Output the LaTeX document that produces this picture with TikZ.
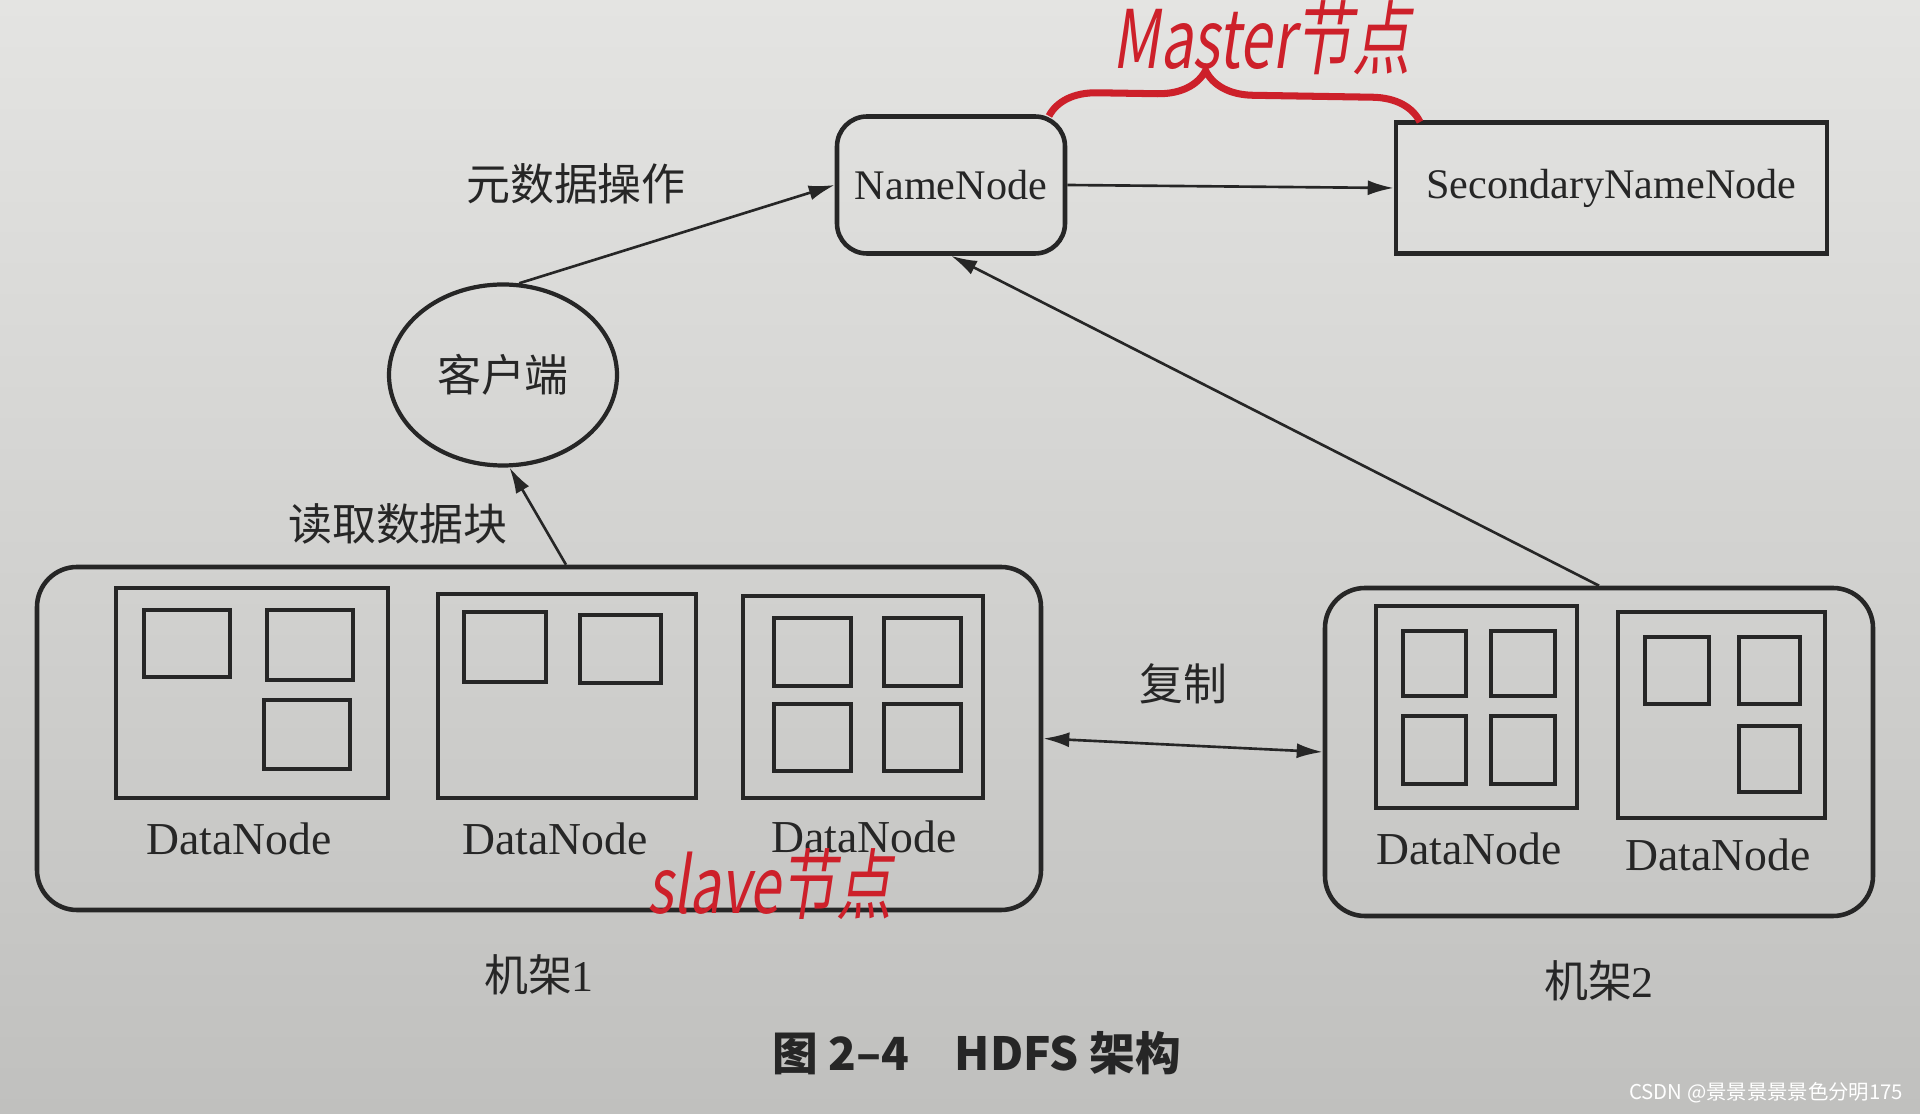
\documentclass[tikz,border=0pt]{standalone}
\usepackage{fontspec}
\setmainfont{Liberation Serif}
\newfontfamily\cjk{Noto Sans CJK SC}
\newfontfamily\hand[FakeSlant=0.15,FakeStretch=0.72]{Noto Sans CJK SC}
\usepackage{xcolor}
\usetikzlibrary{arrows.meta, positioning, shapes.geometric, decorations.pathreplacing}

\definecolor{ink}{RGB}{38,38,38}
\definecolor{pen}{RGB}{205,32,42}
\definecolor{paperTop}{RGB}{228,228,226}
\definecolor{paperBot}{RGB}{192,192,190}

\begin{document}
\begin{tikzpicture}[
  x=0.1mm, y=-0.1mm,
  master/.style={
    draw=ink, line width=1.3pt, rounded corners=3mm,
    minimum width=22.8mm, minimum height=13.7mm,
    font=\fontsize{12}{14}\selectfont, text=ink
  },
  second/.style={
    draw=ink, line width=1.3pt,
    minimum width=43.1mm, minimum height=13.1mm,
    font=\fontsize{12}{14}\selectfont, text=ink
  },
  client/.style={
    draw=ink, line width=1.2pt, ellipse, inner sep=0,
    minimum width=22.8mm, minimum height=18.1mm,
    font=\cjk\fontsize{12.5}{15}\selectfont, text=ink
  },
  rack/.style={draw=ink, line width=1.3pt, rounded corners=4mm},
  dn/.style={draw=ink, line width=1.4pt},
  blk/.style={draw=ink, line width=1.1pt, inner sep=0},
  dnlabel/.style={font=\fontsize{13}{15}\selectfont, text=ink, inner sep=0},
  cn/.style={font=\cjk\fontsize{12.5}{15}\selectfont, text=ink, inner sep=0},
  arrow/.style={-{Latex[length=2.6mm, width=1.5mm]}, line width=0.75pt, draw=ink},
  both/.style={{Latex[length=2.6mm, width=1.5mm]}-{Latex[length=2.6mm, width=1.5mm]}, line width=0.75pt, draw=ink},
  note/.style={font=\hand\fontsize{23}{26}\selectfont, text=pen, inner sep=0},
]
  % Paper
  \useasboundingbox (0,0) rectangle (1920,1114);
  \shade[top color=paperTop, bottom color=paperBot] (0,0) rectangle (1920,1114);

  % Master side
  \node[master] (nn) at (951,185) {NameNode};
  \node[second] (snn) at (1611.5,188) {SecondaryNameNode};
  \node[client] (client) at (503,375) {客户端};

  % Rack 1
  \node[rack, minimum width=100.4mm, minimum height=34.3mm] (rack1) at (539,738.5) {};
  \node[dn, minimum width=27.2mm, minimum height=21mm] (dn1) at (252,693) {};
  \node[dn, minimum width=25.8mm, minimum height=20.4mm] (dn2) at (567,696) {};
  \node[dn, minimum width=24mm, minimum height=20.2mm] (dn3) at (863,697) {};

  % blocks in rack 1
  \node[blk, minimum width=8.6mm, minimum height=6.7mm] (b11) at (187,643.5) {};
  \node[blk, minimum width=8.6mm, minimum height=7mm] (b12) at (310,645) {};
  \node[blk, minimum width=8.6mm, minimum height=6.9mm] (b13) at (307,734.5) {};
  \node[blk, minimum width=8.2mm, minimum height=7mm] (b21) at (505,647) {};
  \node[blk, minimum width=8.1mm, minimum height=6.8mm] (b22) at (620.5,649) {};
  \node[blk, minimum width=7.7mm, minimum height=6.8mm] (b31) at (812.5,652) {};
  \node[blk, minimum width=7.7mm, minimum height=6.8mm] (b32) at (922.5,652) {};
  \node[blk, minimum width=7.7mm, minimum height=6.7mm] (b33) at (812.5,737.5) {};
  \node[blk, minimum width=7.7mm, minimum height=6.7mm] (b34) at (922.5,737.5) {};

  \node[dnlabel] (l1) at (239,839) {DataNode};
  \node[dnlabel] (l2) at (555,839) {DataNode};
  \node[dnlabel] (l3) at (864,837) {DataNode};
  \node[cn, below=4.2mm of rack1] (r1) {机架{\rmfamily 1}};

  % Rack 2
  \node[rack, minimum width=54.8mm, minimum height=32.8mm] (rack2) at (1599,752) {};
  \node[dn, minimum width=20.1mm, minimum height=20.2mm] (dn4) at (1476.5,707) {};
  \node[dn, minimum width=20.7mm, minimum height=20.6mm] (dn5) at (1721.5,715) {};

  % blocks in rack 2
  \node[blk, minimum width=6.3mm, minimum height=6.5mm] (b41) at (1434.5,663.5) {};
  \node[blk, minimum width=6.4mm, minimum height=6.5mm] (b42) at (1523,663.5) {};
  \node[blk, minimum width=6.3mm, minimum height=6.8mm] (b43) at (1434.5,750) {};
  \node[blk, minimum width=6.4mm, minimum height=6.8mm] (b44) at (1523,750) {};
  \node[blk, minimum width=6.4mm, minimum height=6.7mm] (b51) at (1677,670.5) {};
  \node[blk, minimum width=6.1mm, minimum height=6.7mm] (b52) at (1769.5,670.5) {};
  \node[blk, minimum width=6.1mm, minimum height=6.6mm] (b53) at (1769.5,759) {};

  \node[dnlabel] (l4) at (1469,849) {DataNode};
  \node[dnlabel] (l5) at (1718,855) {DataNode};
  \node[cn, below=4.2mm of rack2] (r2) {机架{\rmfamily 2}};

  % Connectors
  \draw[arrow] (nn.east) -- (snn.west);
  \draw[arrow] (client.80) -- (nn.west);
  \draw[arrow] ([xshift=2.7mm]rack1.north) -- (client.-86);
  \draw[arrow] (rack2.north) -- (nn.south);
  \draw[both] (rack1.east) -- node[cn, above=4mm] (copy) {复制} (rack2.west);

  \node[cn] (meta) at (576,184) {元数据操作};
  \node[cn] (read) at (398,524) {读取数据块};

  % Caption and watermark
  \node[anchor=west, font=\cjk\bfseries\fontsize{13}{15}\selectfont, text=ink] (cap) at (760,1053) {图 2–4\quad HDFS 架构};
  \node[anchor=east, inner sep=0, font=\cjk\fontsize{5.8}{7}\selectfont, text=white] (mark) at (1904,1093) {CSDN @景景景景景色分明175};

  % Handwritten notes
  \node[note] (mnote) at (1262,38) {Master节点};
  \coordinate (braceL) at (1049,116);
  \coordinate (braceR) at (1420,122);
  \draw[pen, line width=2pt, decorate, decoration={brace, amplitude=4.8mm, aspect=0.42}] (braceL) -- (braceR);
  \node[note, font=\hand\fontsize{22}{24}\selectfont] (snote) at (770,884) {slave节点};

\end{tikzpicture}
\end{document}
